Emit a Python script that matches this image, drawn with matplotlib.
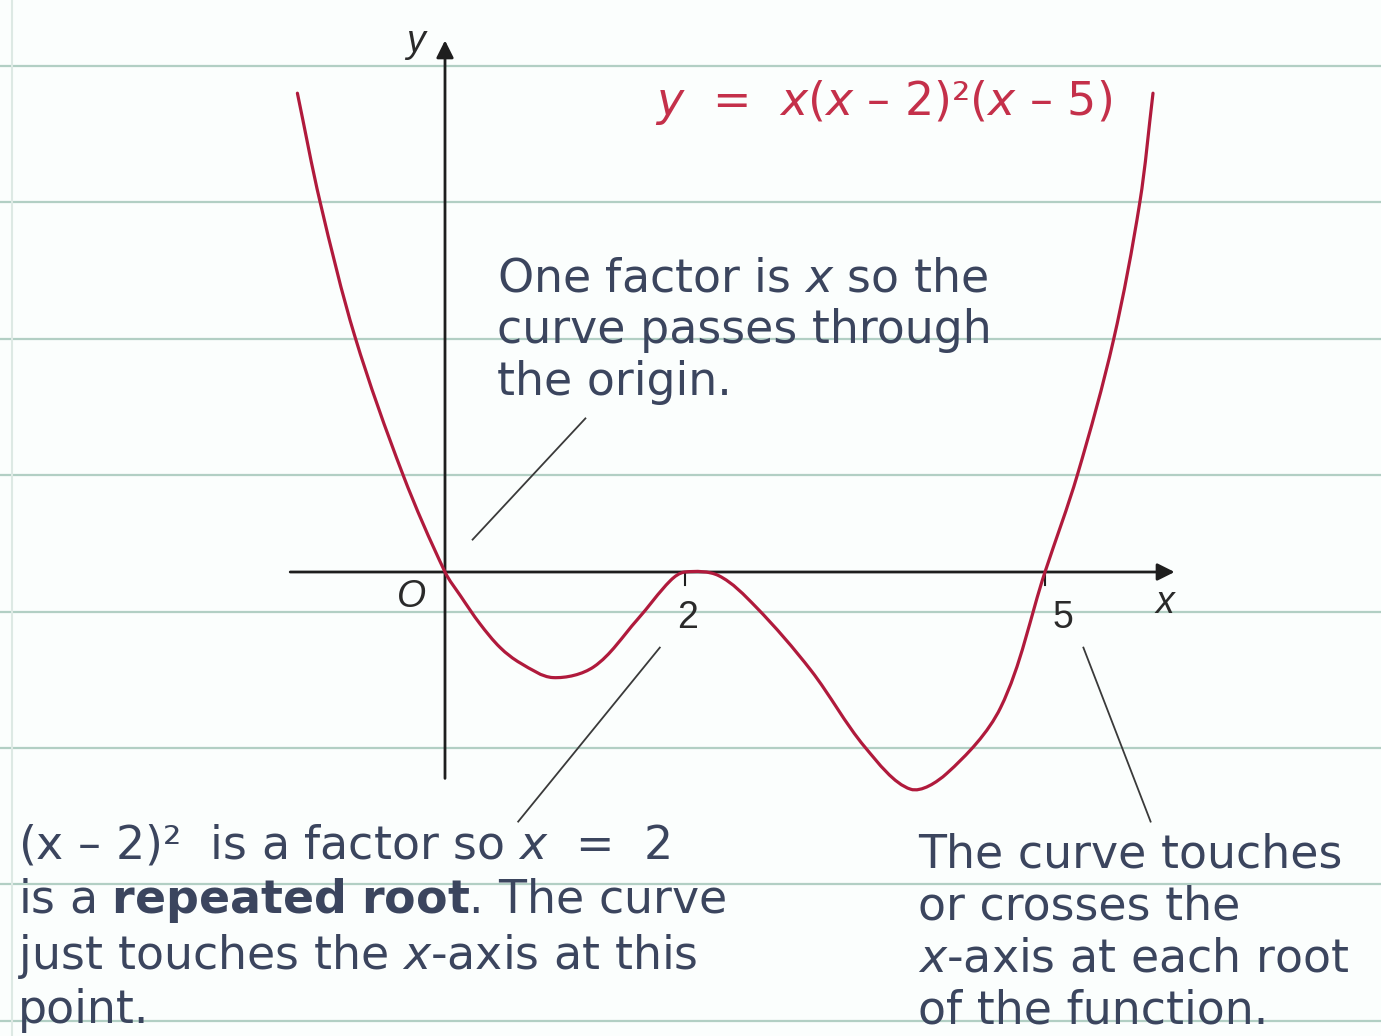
import numpy as np
import matplotlib
matplotlib.use("Agg")
import matplotlib.pyplot as plt
from matplotlib.lines import Line2D
from matplotlib.path import Path
from matplotlib.patches import PathPatch

plt.rcParams['font.family'] = ['DejaVu Sans']
plt.rcParams['mathtext.fontset'] = 'dejavusans'

# sketched quartic y = x(x-2)^2(x-5)
curve_x = [-1.23, -1.04, -0.75, -0.35, 0.00, 0.13, 0.29, 0.46, 0.63, 0.90,
           1.24, 1.60, 1.88, 2.00, 2.28, 2.59, 3.05, 3.50, 3.88, 4.18,
           4.63, 5.00, 5.27, 5.57, 5.79, 5.90]
curve_y = [3.99, 3.08, 1.96, 0.81, 0.00, -0.20, -0.43, -0.63, -0.76, -0.88,
           -0.79, -0.40, -0.07, 0.00, -0.03, -0.29, -0.82, -1.46, -1.81, -1.68,
           -1.13, 0.00, 0.81, 1.93, 3.08, 3.99]
roots = [0, 2, 5]
root_labels = ['O', '2', '5']
equation = r'$y$  =  $x$($x$ – 2)²($x$ – 5)'

ink = '#3b455e'
red = '#b01a3c'


def smooth_path(xs, ys):
    # cubic Bezier through every point, handles scaled by chord length
    p = np.column_stack([xs, ys])
    d = np.hypot(*np.diff(p, axis=0).T)
    tang = np.zeros_like(p)
    tang[1:-1] = (p[2:] - p[:-2]) / (d[:-1] + d[1:])[:, None]
    tang[0] = (p[1] - p[0]) / d[0]
    tang[-1] = (p[-1] - p[-2]) / d[-1]
    verts, codes = [p[0]], [Path.MOVETO]
    for i in range(len(p) - 1):
        verts += [p[i] + tang[i] * d[i] / 3, p[i + 1] - tang[i + 1] * d[i] / 3,
                  p[i + 1]]
        codes += [Path.CURVE4] * 3
    return Path(verts, codes)


fig = plt.figure(figsize=(13.81, 10.36), dpi=100)
fig.patch.set_facecolor('#fbfefd')
ax = fig.add_axes([0, 0, 1, 1])
ax.set_facecolor('none')
ax.set_xlim(-445 / 120, 936 / 120)
ax.set_ylim(-464 / 120, 572 / 120)
ax.axis('off')

# exercise-book ruling
for py in np.arange(66, 1036, 136.4):
    fig.add_artist(Line2D([0, 1], [1 - py / 1036] * 2, color='#b2cfc4',
                          lw=1.6, zorder=0))
fig.add_artist(Line2D([12 / 1381] * 2, [0, 1], color='#dde9e4', lw=1.5, zorder=0))

# axes with arrowheads
arrow = dict(arrowstyle='-|>', color='#1e1e1e', lw=2.0, mutation_scale=26,
             shrinkA=0, shrinkB=0)
ax.annotate('', xy=(6.08, 0), xytext=(-1.29, 0), arrowprops=arrow)
ax.annotate('', xy=(0, 4.43), xytext=(0, -1.72), arrowprops=arrow)
ax.plot([2, 2], [0, -0.11], color='#1e1e1e', lw=1.5)
ax.plot([5, 5], [0, -0.11], color='#1e1e1e', lw=1.5)

axis_font = dict(fontsize=27, color='#2a2a2a', family='Liberation Sans',
                 ha='center', va='center')
ax.text(-0.25, 4.42, 'y', style='italic', **axis_font)
ax.text(6.0, -0.26, 'x', style='italic', **axis_font)
label_pos = [(-0.28, -0.21), (0.02, -0.38), (0.15, -0.38)]
for r, lab, (dx, ly) in zip(roots, root_labels, label_pos):
    ax.text(r + dx, ly, lab, style='italic' if lab == 'O' else 'normal',
            **axis_font)

# the curve
ax.add_patch(PathPatch(smooth_path(curve_x, curve_y), fill=False,
                       edgecolor=red, lw=2.3, capstyle='round', zorder=3))
ax.text(1.75, (572 - 115) / 120, equation, fontsize=33, color='#c4304a',
        va='baseline')

# leader lines
lead = dict(color='#3a3a3a', lw=1.3)
ax.plot([0.23, 1.17], [0.27, 1.28], **lead)
ax.plot([0.61, 1.79], [-2.08, -0.63], **lead)
ax.plot([5.32, 5.88], [-0.63, -2.08], **lead)

# notes
note = dict(fontsize=33, color=ink, va='baseline', linespacing=1.2)
ax.text(0.43, (572 - 395) / 120,
        'One factor is $x$ so the\ncurve passes through\nthe origin.', **note)
ax.text(-3.56, (572 - 1023) / 120,
        '(x – 2)²  is a factor so $x$  =  2\n'
        r'is a $\mathbf{repeated\ root}$. The curve' '\n'
        'just touches the $x$-axis at this\npoint.', **note)
ax.text(3.94, (572 - 1023) / 120,
        'The curve touches\nor crosses the\n$x$-axis at each root\nof the function.',
        **note)

fig.savefig('out.png', dpi=100, facecolor=fig.get_facecolor())
